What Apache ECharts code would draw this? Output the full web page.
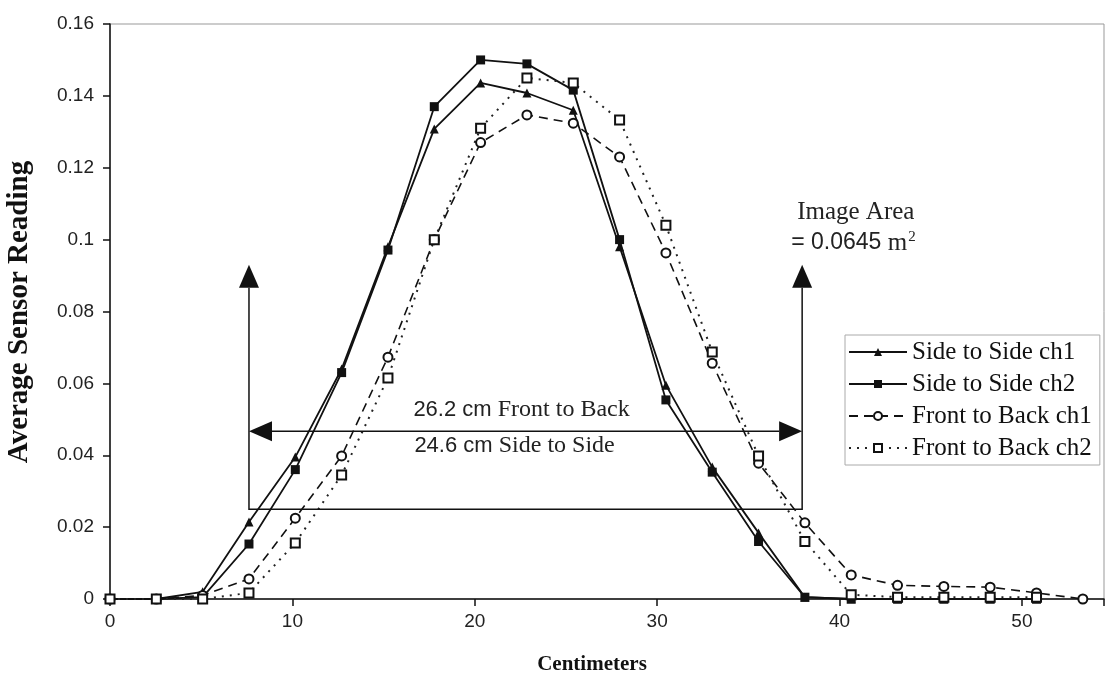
<!DOCTYPE html>
<html>
<head>
<meta charset="utf-8">
<script src="https://cdn.jsdelivr.net/npm/echarts@6/dist/echarts.min.js"></script>
<style>html,body{margin:0;padding:0;background:#fff;}#c{width:1111px;height:681px;}</style>
</head>
<body>
<div id="c"></div>
<script>
// ---- data ----
const xCm = [0, 2.54, 5.08, 7.62, 10.16, 12.7, 15.24, 17.78, 20.32, 22.86, 25.4, 27.94, 30.48, 33.02, 35.56, 38.1, 40.64, 43.18, 45.72, 48.26, 50.8, 53.34];
const sideCh1 = [0, 0, 0.002, 0.0214, 0.0395, 0.064, 0.098, 0.1308, 0.1436, 0.1408, 0.136, 0.098, 0.0595, 0.0367, 0.0184, 0.0005, 0, 0, 0, 0, 0];
const sideCh2 = [0, 0, 0.0005, 0.0153, 0.036, 0.063, 0.0971, 0.137, 0.150, 0.1489, 0.1416, 0.100, 0.0554, 0.0353, 0.016, 0.0005, 0, 0, 0, 0, 0];
const frontCh1 = [0, 0, 0.001, 0.0056, 0.0225, 0.0398, 0.0673, 0.100, 0.127, 0.1347, 0.1324, 0.123, 0.0963, 0.0656, 0.0378, 0.0212, 0.0067, 0.0038, 0.0035, 0.0033, 0.0017, 0];
const frontCh2 = [0, 0, 0, 0.0017, 0.0156, 0.0345, 0.0615, 0.100, 0.131, 0.145, 0.1436, 0.1333, 0.104, 0.0687, 0.0398, 0.016, 0.0012, 0.0005, 0.0005, 0.0005, 0.0005];
const seriesNames = ['Side to Side ch1', 'Side to Side ch2', 'Front to Back ch1', 'Front to Back ch2'];
const yTicks = [0, 0.02, 0.04, 0.06, 0.08, 0.1, 0.12, 0.14, 0.16];
const xTicks = [0, 10, 20, 30, 40, 50];
// annotation (data units)
const boxX = [7.62, 37.95];
const boxBottomY = 0.025;
const arrowY = 0.0467;
const arrowTopY = 0.093;
const widthLabels = ['26.2 cm ', 'Front to Back', '24.6 cm ', 'Side to Side'];
const areaLabel = ['Image Area', '= 0.0645 ', 'm', '2'];

function pairs(arr){ return arr.map((v,i)=>[xCm[i], v]); }

const chart = echarts.init(document.getElementById('c'));
const serif = 'Liberation Serif';
const sans = 'Liberation Sans';

chart.setOption({
  animation: false,
  backgroundColor: '#fff',
  grid: { left: 110, right: 7, top: 24, bottom: 82, show: true, borderColor: '#999', borderWidth: 1 },
  legend: {
    orient: 'vertical', left: 845, top: 335,
    data: seriesNames,
    itemWidth: 58, itemHeight: 10, itemGap: 6,
    padding: [4, 8, 4, 3],
    borderColor: '#aaa', borderWidth: 1, backgroundColor: '#fff',
    textStyle: { fontFamily: serif, fontSize: 25, color: '#111', lineHeight: 26 }
  },
  xAxis: {
    type: 'value', min: 0, max: 54.5, interval: 10,
    axisLine: { lineStyle: { color: '#111', width: 1.5 } },
    axisTick: { length: 7, lineStyle: { color: '#111', width: 1.5 } },
    splitLine: { show: false },
    axisLabel: { fontFamily: sans, fontSize: 19, color: '#222', margin: 13,
      formatter: v => xTicks.indexOf(v) >= 0 ? String(v) : '' }
  },
  yAxis: {
    type: 'value', min: 0, max: 0.16, interval: 0.02,
    axisLine: { show: true, lineStyle: { color: '#111', width: 1.5 } },
    axisTick: { show: true, length: 7, lineStyle: { color: '#111', width: 1.5 } },
    splitLine: { show: false },
    axisLabel: { fontFamily: sans, fontSize: 19, color: '#222', margin: 16,
      formatter: v => { const t = yTicks.find(k => Math.abs(k - v) < 1e-9); return t === undefined ? '' : String(t); } }
  },
  series: [
    { name: seriesNames[0], type: 'line', data: pairs(sideCh1), symbol: 'triangle', symbolSize: 9,
      lineStyle: { color: '#111', width: 1.8 }, itemStyle: { color: '#111' } },
    { name: seriesNames[1], type: 'line', data: pairs(sideCh2), symbol: 'rect', symbolSize: 9,
      lineStyle: { color: '#111', width: 1.8 }, itemStyle: { color: '#111' } },
    { name: seriesNames[2], type: 'line', data: pairs(frontCh1), symbol: 'emptyCircle', symbolSize: 9,
      lineStyle: { color: '#111', width: 1.6, type: [9, 6] }, itemStyle: { color: '#111', borderWidth: 1.5 } },
    { name: seriesNames[3], type: 'line', data: pairs(frontCh2), symbol: 'emptyRect', symbolSize: 9,
      lineStyle: { color: '#222', width: 2, type: [2, 6] }, itemStyle: { color: '#111', borderWidth: 1.5 } }
  ]
});

// ---- annotations, positioned from data coordinates ----
const P = (x, y) => chart.convertToPixel({ gridIndex: 0 }, [x, y]);
const bl = P(boxX[0], boxBottomY), br = P(boxX[1], boxBottomY);
const tl = P(boxX[0], arrowTopY), tr = P(boxX[1], arrowTopY);
const al = P(boxX[0], arrowY), ar = P(boxX[1], arrowY);
const AL = 23, AW = 10; // arrowhead length, half width
const stroke = { stroke: '#111', lineWidth: 1.5 };
const fill = { fill: '#111' };
const mid = P((boxX[0] + boxX[1]) / 2, arrowY);
const labelPos = P(boxX[1], arrowTopY);
const richW = { a: { fontFamily: sans, fontSize: 22, fill: '#222' }, b: { fontFamily: serif, fontSize: 24, fill: '#222' } };

chart.setOption({
  graphic: [
    { type: 'polyline', shape: { points: [[tl[0], tl[1] + AL], bl, br, [tr[0], tr[1] + AL]] }, style: stroke, z: 5 },
    { type: 'line', shape: { x1: al[0] + AL, y1: al[1], x2: ar[0] - AL, y2: ar[1] }, style: stroke, z: 5 },
    { type: 'polygon', shape: { points: [tl, [tl[0] - AW, tl[1] + AL], [tl[0] + AW, tl[1] + AL]] }, style: fill, z: 5 },
    { type: 'polygon', shape: { points: [tr, [tr[0] - AW, tr[1] + AL], [tr[0] + AW, tr[1] + AL]] }, style: fill, z: 5 },
    { type: 'polygon', shape: { points: [al, [al[0] + AL, al[1] - AW], [al[0] + AL, al[1] + AW]] }, style: fill, z: 5 },
    { type: 'polygon', shape: { points: [ar, [ar[0] - AL, ar[1] - AW], [ar[0] - AL, ar[1] + AW]] }, style: fill, z: 5 },
    { type: 'text', x: mid[0] - 4, y: mid[1] - 21, z: 6,
      style: { text: '{a|' + widthLabels[0] + '}{b|' + widthLabels[1] + '}', align: 'center', verticalAlign: 'middle', rich: richW } },
    { type: 'text', x: mid[0] - 11, y: mid[1] + 15, z: 6,
      style: { text: '{a|' + widthLabels[2] + '}{b|' + widthLabels[3] + '}', align: 'center', verticalAlign: 'middle', rich: richW } },
    { type: 'text', x: labelPos[0] - 5, y: 212, z: 6,
      style: { text: areaLabel[0], fontFamily: serif, fontSize: 25, fill: '#222', align: 'left', verticalAlign: 'middle' } },
    { type: 'text', x: labelPos[0] - 11, y: 243, z: 6,
      style: { text: '{a|' + areaLabel[1] + '}{b|' + areaLabel[2] + '}{s|' + areaLabel[3] + '}', align: 'left', verticalAlign: 'middle',
        rich: { a: { fontFamily: sans, fontSize: 23, fill: '#222' }, b: { fontFamily: serif, fontSize: 25, fill: '#222' },
                s: { fontFamily: serif, fontSize: 15, fill: '#222', verticalAlign: 'top', padding: [0, 0, 12, 1] } } } },
    { type: 'text', x: 592, y: 665, z: 6,
      style: { text: 'Centimeters', fontFamily: serif, fontWeight: 'bold', fontSize: 21, fill: '#111', align: 'center', verticalAlign: 'middle' } },
    { type: 'text', x: 20, y: 312, rotation: Math.PI / 2, z: 6,
      style: { text: 'Average Sensor Reading', fontFamily: serif, fontWeight: 'bold', fontSize: 29, fill: '#111', align: 'center', verticalAlign: 'middle' } }
  ]
});
</script>
</body>
</html>
